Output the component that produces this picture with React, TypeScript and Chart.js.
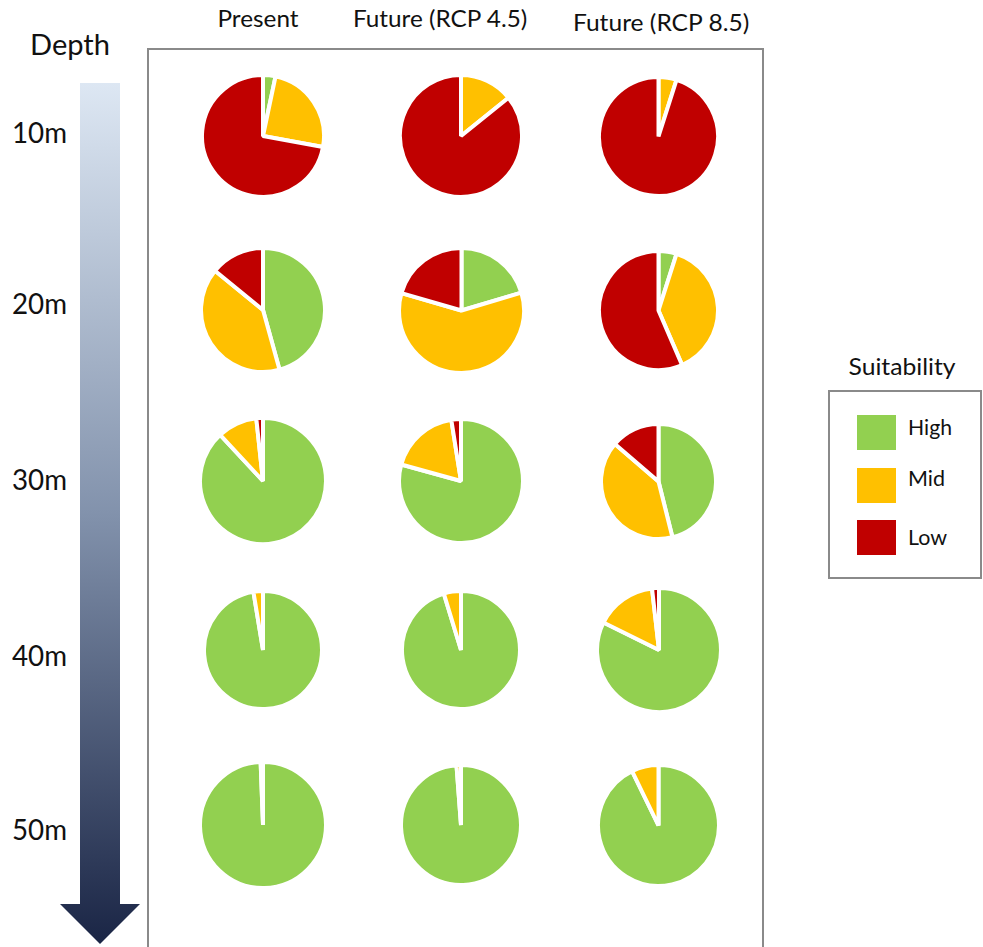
import React, { useEffect, useRef } from "react";
import { Chart, registerables } from "chart.js";

Chart.register(...registerables);

// ---------- data ----------
const scenarios = ["Present", "Future (RCP 4.5)", "Future (RCP 8.5)"];
const depths = ["10m", "20m", "30m", "40m", "50m"];
const suitability = ["High", "Mid", "Low"];
const suitabilityColors = ["#92d050", "#ffc000", "#c00000"];

// share (%) of each suitability class, one value per depth (10m..50m)
const presentHigh = [3.3, 45.7, 88.1, 97.4, 99.4];
const presentMid = [24.6, 40.2, 10.2, 2.6, 0.6];
const presentLow = [72.1, 14.1, 1.7, 0, 0];

const rcp45High = [0, 20.4, 79.3, 95.3, 98.8];
const rcp45Mid = [14.2, 59.1, 18.2, 4.7, 1.2];
const rcp45Low = [85.8, 20.5, 2.5, 0, 0];

const rcp85High = [0, 4.9, 46.1, 82.3, 92.8];
const rcp85Mid = [4.9, 38.6, 40.2, 15.9, 7.2];
const rcp85Low = [95.1, 56.5, 13.7, 1.8, 0];

const seriesByScenario = [
  [presentHigh, presentMid, presentLow],
  [rcp45High, rcp45Mid, rcp45Low],
  [rcp85High, rcp85Mid, rcp85Low],
];

// ---------- layout (positions / sizes only) ----------
const colX = [263, 461, 658.5];
const rowY = [136, 310, 481, 650, 825];
const pieRadius = [
  [59, 59, 57.5],
  [60, 60.4, 57.5],
  [60.8, 60, 55.7],
  [57, 57, 60.2],
  [60.8, 58, 58.4],
];
const rowLabelY = [133, 304, 480, 656, 830];
const BORDER = 4;
const FONT = "Lato, 'Open Sans', sans-serif";
const TEXT = "#111111";
const FRAME = "#8a8a8a";

let measureCtx: CanvasRenderingContext2D | null = null;
function measure(text: string, size: number): number {
  if (!measureCtx) measureCtx = document.createElement("canvas").getContext("2d");
  if (!measureCtx) return text.length * size * 0.5;
  measureCtx.font = `${size}px Lato`;
  return measureCtx.measureText(text).width;
}

function Label(props: {
  text: string;
  x: number; // left edge (align left) or centre (align center)
  y: number; // cap-height centre
  width: number;
  size: number;
  align?: "left" | "center";
}) {
  const { text, x, y, width, size, align = "left" } = props;
  const w = measure(text, size);
  const sx = width / w;
  const left = align === "center" ? x - w / 2 : x;
  return (
    <span
      style={{
        position: "absolute",
        left,
        top: y - size * 0.53,
        fontFamily: FONT,
        fontSize: size,
        lineHeight: `${size}px`,
        whiteSpace: "nowrap",
        color: TEXT,
        transform: `scaleX(${sx})`,
        transformOrigin: align === "center" ? "center center" : "left center",
      }}
    >
      {text}
    </span>
  );
}

function PieCell(props: { values: number[]; cx: number; cy: number; r: number }) {
  const { values, cx, cy, r } = props;
  const ref = useRef<HTMLCanvasElement>(null);
  const size = Math.round(2 * r + 2 * BORDER);
  useEffect(() => {
    if (!ref.current) return;
    const chart = new Chart(ref.current, {
      type: "pie",
      data: {
        labels: suitability,
        datasets: [
          {
            data: values,
            backgroundColor: suitabilityColors,
            borderColor: "#ffffff",
            borderWidth: BORDER,
          },
        ],
      },
      options: {
        responsive: false,
        animation: false,
        events: [],
        layout: { padding: 0 },
        plugins: {
          legend: { display: false },
          tooltip: { enabled: false },
          title: { display: false },
        },
      },
    });
    return () => chart.destroy();
  }, []);
  return (
    <canvas
      ref={ref}
      width={size}
      height={size}
      style={{
        position: "absolute",
        left: cx - size / 2,
        top: cy - size / 2,
        width: size,
        height: size,
      }}
    />
  );
}

export default function App() {
  const pies: React.ReactNode[] = [];
  depths.forEach((_, ri) => {
    scenarios.forEach((__, ci) => {
      const s = seriesByScenario[ci];
      pies.push(
        <PieCell
          key={`${ri}-${ci}`}
          values={[s[0][ri], s[1][ri], s[2][ri]]}
          cx={colX[ci]}
          cy={rowY[ri]}
          r={pieRadius[ri][ci]}
        />
      );
    });
  });

  const titleX = [257.5, 440.5, 661.5];
  const titleY = [18.5, 18.5, 22.5];
  const titleW = [81, 175, 177];

  const legendY = [427, 478, 537];
  const legendSwatchTop = [415, 468, 520];
  const legendW = [44, 37, 39];

  return (
    <div
      style={{
        position: "absolute",
        left: 0,
        top: 0,
        width: 983,
        height: 947,
        overflow: "hidden",
        background: "#ffffff",
      }}
    >
      {/* depth arrow */}
      <svg width={983} height={947} style={{ position: "absolute", left: 0, top: 0 }}>
        <defs>
          <linearGradient id="depthGrad" x1="0" y1="83" x2="0" y2="944" gradientUnits="userSpaceOnUse">
            <stop offset="0" stopColor="#dde7f3" />
            <stop offset="0.5" stopColor="#8292ac" />
            <stop offset="1" stopColor="#1a2545" />
          </linearGradient>
        </defs>
        <polygon
          points="80,83 120,83 120,904 140,904 100,944 60,904 80,904"
          fill="url(#depthGrad)"
        />
      </svg>

      {/* frame around the pies */}
      <div
        style={{
          position: "absolute",
          left: 147,
          top: 48,
          width: 617,
          height: 1000,
          border: `2px solid ${FRAME}`,
          boxSizing: "border-box",
        }}
      />

      <Label text="Depth" x={30} y={45} width={80} size={28} />
      {depths.map((d, i) => (
        <Label key={d} text={d} x={12} y={rowLabelY[i]} width={55} size={28} />
      ))}
      {scenarios.map((s, i) => (
        <Label key={s} text={s} x={titleX[i]} y={titleY[i]} width={titleW[i]} size={24} align="center" />
      ))}

      {pies}

      {/* legend */}
      <Label text="Suitability" x={902.5} y={367} width={107} size={24} align="center" />
      <div
        style={{
          position: "absolute",
          left: 828,
          top: 390,
          width: 154,
          height: 189,
          border: `2px solid ${FRAME}`,
          boxSizing: "border-box",
        }}
      />
      {suitability.map((s, i) => (
        <React.Fragment key={s}>
          <div
            style={{
              position: "absolute",
              left: 857,
              top: legendSwatchTop[i],
              width: 39,
              height: 35,
              background: suitabilityColors[i],
            }}
          />
          <Label text={s} x={908} y={legendY[i]} width={legendW[i]} size={21} />
        </React.Fragment>
      ))}
    </div>
  );
}
